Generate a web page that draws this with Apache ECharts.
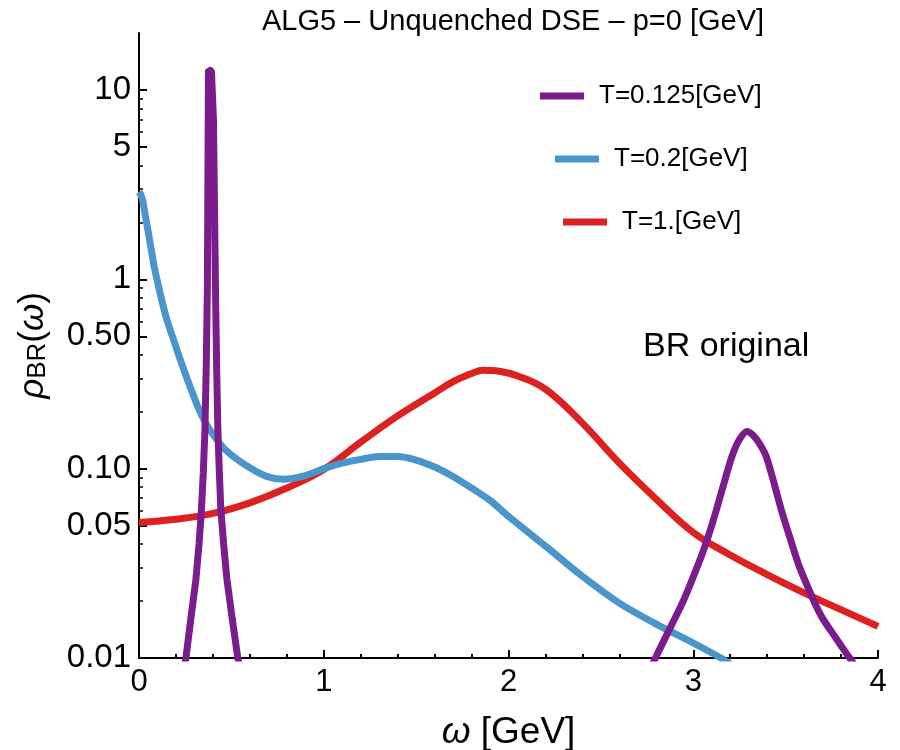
<!DOCTYPE html>
<html lang="en">

<head>
    <meta charset="UTF-8">
    <title>ALG5 - Unquenched DSE</title>
    <script src="https://cdn.jsdelivr.net/npm/echarts@6.0.0/dist/echarts.min.js"></script>
    <style>
        body { margin: 0; background: #fff; }
    </style>
</head>

<body>
    <div id="container" style="width: 900px; height: 750px"></div>
    <script>
        // T = 0.125 GeV, two separate pieces (dips below 0.01 in between)
        var omegaPurpleLow = [0.245, 0.254, 0.28, 0.308, 0.325, 0.338, 0.348, 0.357, 0.364, 0.370, 0.376, 0.392, 0.403, 0.414, 0.420, 0.427, 0.435, 0.443, 0.458, 0.476, 0.505, 0.535, 0.545];
        var rhoPurpleLow = [0.009, 0.01, 0.016, 0.026, 0.04, 0.061, 0.095, 0.161, 0.35, 0.885, 12.8, 12.6, 7.0, 0.885, 0.35, 0.161, 0.095, 0.061, 0.04, 0.026, 0.016, 0.01, 0.009];
        var omegaPurpleHigh = [2.78, 2.795, 2.87, 2.95, 3.03, 3.07, 3.12, 3.157, 3.21, 3.25, 3.292, 3.33, 3.36, 3.395, 3.44, 3.48, 3.53, 3.573, 3.62, 3.665, 3.70, 3.75, 3.84, 3.87];
        var rhoPurpleHigh = [0.0093, 0.01, 0.0141, 0.0204, 0.0318, 0.0407, 0.0582, 0.0778, 0.1164, 0.1426, 0.157, 0.148, 0.135, 0.116, 0.082, 0.059, 0.0412, 0.0306, 0.0237, 0.0188, 0.0162, 0.0137, 0.0102, 0.0093];

        // T = 0.2 GeV
        var omegaBlue = [0, 0.01, 0.02, 0.035, 0.05, 0.08, 0.097, 0.12, 0.15, 0.184, 0.22, 0.25, 0.29, 0.33, 0.37, 0.42, 0.46, 0.51, 0.6, 0.69, 0.78, 0.9, 1.0, 1.1, 1.2, 1.3, 1.4, 1.5, 1.6, 1.7, 1.8, 1.9, 2.0, 2.2, 2.4, 2.6, 2.8, 3.0, 3.15, 3.2];
        var rhoBlue = [2.9, 2.8, 2.6, 2.15, 1.78, 1.2, 1.0, 0.8, 0.615, 0.49, 0.385, 0.318, 0.25, 0.2, 0.168, 0.143, 0.128, 0.116, 0.101, 0.091, 0.088, 0.092, 0.1, 0.107, 0.112, 0.116, 0.116, 0.111, 0.102, 0.091, 0.079, 0.068, 0.056, 0.039, 0.027, 0.0195, 0.0151, 0.012, 0.01, 0.0093];

        // T = 1 GeV
        var omegaRed = [0, 0.2, 0.4, 0.6, 0.8, 1.0, 1.2, 1.4, 1.6, 1.7, 1.8, 1.86, 1.95, 2.05, 2.2, 2.4, 2.6, 2.8, 3.0, 3.2, 3.4, 3.6, 3.8, 4.0];
        var rhoRed = [0.052, 0.054, 0.058, 0.066, 0.079, 0.099, 0.138, 0.19, 0.251, 0.288, 0.318, 0.331, 0.327, 0.309, 0.263, 0.174, 0.107, 0.069, 0.046, 0.035, 0.0276, 0.0221, 0.018, 0.0147];

        var yMajorTicks = [0.01, 0.05, 0.1, 0.5, 1, 5, 10];
        var yMinorTicks = [0.02, 0.03, 0.04, 0.06, 0.07, 0.08, 0.09, 0.2, 0.3, 0.4, 0.6, 0.7, 0.8, 0.9, 2, 3, 4, 6, 7, 8, 9];

        var names = ['T=0.125[GeV]', 'T=0.2[GeV]', 'T=1.[GeV]'];
        var colors = ['#7a1c8c', '#4a95c9', '#dd2121'];

        function pairs(xs, ys) {
            var out = [];
            for (var i = 0; i < xs.length; i++) out.push([xs[i], ys[i]]);
            return out;
        }

        var font = 'Liberation Sans';
        var chart = echarts.init(document.getElementById('container'));

        function legendAt(i, left, top) {
            return {
                data: [names[i]],
                left: left,
                top: top,
                padding: 0,
                icon: 'rect',
                itemWidth: 44,
                itemHeight: 7,
                textStyle: { fontFamily: font, fontSize: 26, color: '#000', padding: [0, 0, 0, 10] }
            };
        }

        function lineSeries(name, color, data, smooth) {
            return {
                name: name,
                type: 'line',
                data: data,
                showSymbol: false,
                smooth: smooth,
                clip: true,
                color: color,
                lineStyle: { width: 7, color: color }
            };
        }

        chart.setOption({
            animation: false,
            title: {
                text: 'ALG5 \u2013 Unquenched DSE \u2013 p=0 [GeV]',
                left: 508,
                textAlign: 'center',
                top: 2,
                textStyle: { fontFamily: font, fontSize: 29, fontWeight: 'normal', color: '#000' }
            },
            legend: [
                legendAt(0, 540, 83),
                legendAt(1, 555, 146),
                legendAt(2, 563, 209)
            ],
            grid: { left: 139, right: 22, top: 33, bottom: 92, containLabel: false, outerBoundsMode: 'none' },
            xAxis: {
                type: 'value',
                min: 0,
                max: 4,
                interval: 1,
                name: '{i|\u03c9} [GeV]',
                nameLocation: 'middle',
                nameGap: 56,
                nameTextStyle: {
                    fontFamily: font, fontSize: 37, color: '#000',
                    rich: { i: { fontFamily: font, fontSize: 37, fontStyle: 'italic', color: '#000' } }
                },
                splitLine: { show: false },
                axisLine: { onZero: false, lineStyle: { color: '#000', width: 2 } },
                axisTick: { inside: true, length: 8, lineStyle: { color: '#000', width: 2 } },
                minorTick: { show: true, splitNumber: 5, length: 4, lineStyle: { color: '#000', width: 2 } },
                axisLabel: { fontFamily: font, fontSize: 31, color: '#000', margin: 9 }
            },
            yAxis: [{
                type: 'log',
                logBase: 10,
                min: 0.01,
                max: 20,
                name: '{r|\u03c1}{s|BR}{p|(}{r|\u03c9}{p|)}',
                nameLocation: 'middle',
                nameRotate: 90,
                nameGap: 88,
                nameTextStyle: {
                    color: '#000',
                    rich: {
                        r: { fontFamily: font, fontSize: 35, fontStyle: 'italic', color: '#000' },
                        s: { fontFamily: font, fontSize: 26, color: '#000', verticalAlign: 'bottom' },
                        p: { fontFamily: font, fontSize: 35, color: '#000' }
                    }
                },
                splitLine: { show: false },
                axisLine: { lineStyle: { color: '#000', width: 2 } },
                axisTick: { inside: true, length: 8, customValues: yMajorTicks, lineStyle: { color: '#000', width: 2 } },
                axisLabel: {
                    fontFamily: font, fontSize: 33, color: '#000', margin: 8,
                    customValues: yMajorTicks,
                    formatter: function (v) {
                        return v < 1 ? Number(v).toFixed(2) : String(Math.round(v));
                    }
                }
            }, {
                type: 'log',
                logBase: 10,
                min: 0.01,
                max: 20,
                position: 'left',
                splitLine: { show: false },
                axisLine: { show: false },
                axisLabel: { show: false },
                axisTick: { inside: true, length: 4, customValues: yMinorTicks, lineStyle: { color: '#000', width: 1.5 } }
            }],
            graphic: [{
                type: 'text',
                left: 643,
                top: 330,
                style: { text: 'BR original', fontFamily: font, fontSize: 34, fill: '#000' }
            }],
            series: [
                lineSeries(names[2], colors[2], pairs(omegaRed, rhoRed), 0.4),
                lineSeries(names[1], colors[1], pairs(omegaBlue, rhoBlue), 0.3),
                lineSeries(names[0], colors[0], pairs(omegaPurpleLow, rhoPurpleLow), false),
                lineSeries(names[0], colors[0], pairs(omegaPurpleHigh, rhoPurpleHigh), 0.3)
            ]
        });
    </script>
</body>

</html>
